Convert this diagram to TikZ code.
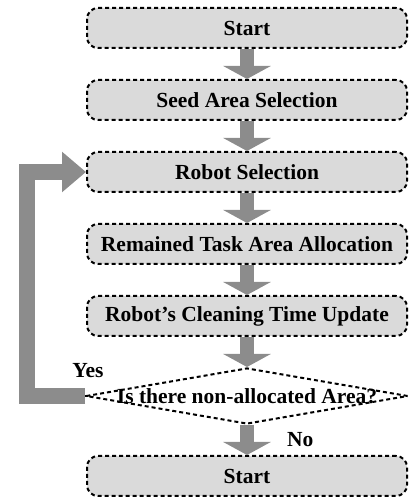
\documentclass[tikz,border=0pt]{standalone}
\usepackage{fontspec}
\setmainfont{Liberation Serif}
\usetikzlibrary{positioning,shapes.geometric,arrows.meta}
\definecolor{boxgray}{HTML}{DADADA}
\definecolor{arrowgray}{HTML}{8C8C8C}
\begin{document}
\begin{tikzpicture}[x=1pt, y=1pt, node distance=30pt,
    stepbox/.style={draw, rectangle, rounded corners=11pt, fill=boxgray, line width=2pt,
        dash pattern=on 4pt off 3pt, minimum width=320pt, minimum height=40pt,
        font=\fontsize{21.5}{24}\selectfont\bfseries},
    decision/.style={draw, diamond, line width=2pt, dash pattern=on 4pt off 3pt,
        minimum width=322pt, minimum height=56pt, inner sep=0pt,
        font=\fontsize{21.5}{24}\selectfont\bfseries},
    lbl/.style={inner sep=0pt, font=\fontsize{21.5}{24}\selectfont\bfseries},
    flowarrow/.style={draw=arrowgray, line width=14pt, -{Triangle[length=13pt, width=47pt]}},
    loopline/.style={draw=arrowgray, line width=16pt, line join=miter, -{Triangle[length=24pt, width=39pt]}}]
    \useasboundingbox (0,0) rectangle (409,500);

    \node[stepbox] (start) at (247,472) {Start};
    \node[stepbox, below=of start] (seed) {Seed Area Selection};
    \node[stepbox, below=of seed] (robot) {Robot Selection};
    \node[stepbox, below=of robot] (alloc) {Remained Task Area Allocation};
    \node[stepbox, below=of alloc] (update) {Robot’s Cleaning Time Update};
    \node[decision, below=of update] (check) {\makebox[0pt][c]{Is there non-allocated Area?}};
    \node[stepbox, below=of check] (finish) {Start};

    \draw[flowarrow] (start) -- (seed);
    \draw[flowarrow] (seed) -- (robot);
    \draw[flowarrow] (robot) -- (alloc);
    \draw[flowarrow] (alloc) -- (update);
    \draw[flowarrow] (update) -- (check);
    \draw[flowarrow] (check) -- node[lbl, right=33pt] {No} (finish);
    \draw[loopline] (check.west) -- ++(-58,0) |- (robot.west);
    \node[lbl] (yes) at ([shift={(3,25)}]check.west) {Yes};
\end{tikzpicture}
\end{document}
